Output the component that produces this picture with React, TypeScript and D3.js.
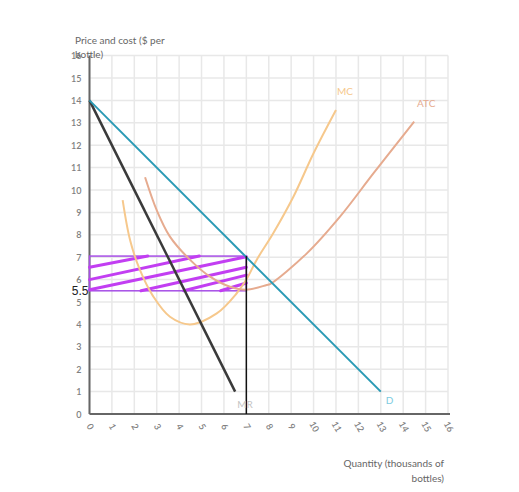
import React from "react";
import * as d3 from "d3";

const xTicks = d3.range(0, 17);
const yTicks = d3.range(0, 17);

const demand: [number, number][] = [[0, 14], [13, 1]];
const marginalRevenue: [number, number][] = [[0, 14], [6.5, 1]];

const mcCurve: [number, number][] = [
  [1.48, 9.55], [1.81, 7.77], [2.25, 6.43], [2.85, 5.24], [3.59, 4.34],
  [4.49, 4.0], [5.68, 4.49], [6.57, 5.39], [7.0, 6.0], [7.46, 6.88],
  [8.2, 8.07], [9.1, 9.7], [10.0, 11.64], [11.0, 13.57],
];

const atcCurve: [number, number][] = [
  [2.48, 10.57], [3.0, 9.1], [3.59, 7.92], [4.49, 6.88], [5.38, 6.13],
  [6.27, 5.68], [7.0, 5.55], [7.91, 5.76], [8.06, 5.8], [9.7, 7.17],
  [11.18, 8.81], [12.67, 10.74], [14.49, 13.05],
];

const profitQ = 7;
const profitPrice = 7.05;
const profitCost = 5.5;

const hatchLines: [number, number, number, number][] = [
  [0, 6.55, 2.6, 7.05],
  [0, 6.0, 4.9, 7.05],
  [0, 5.55, 7, 7.02],
  [2.3, 5.5, 7, 6.55],
  [4.2, 5.5, 7, 6.2],
  [5.85, 5.5, 7, 5.85],
];

const W = 519;
const H = 492;
const x = d3.scaleLinear().domain([0, 16]).range([89.5, 448]);
const y = d3.scaleLinear().domain([0, 16]).range([414, 55.6]);

const font = "Lato, 'Open Sans', sans-serif";

export default function App() {
  const line = d3.line<[number, number]>().x(d => x(d[0])).y(d => y(d[1]));
  const smooth = d3
    .line<[number, number]>()
    .x(d => x(d[0]))
    .y(d => y(d[1]))
    .curve(d3.curveCatmullRom.alpha(0.5));

  return (
    <svg width={W} height={H} style={{ position: "absolute", left: 0, top: 0, background: "#fff" }}>
      {/* grid */}
      <g stroke="#e8e8e8" strokeWidth={1.5}>
        {xTicks.map(t => (
          <line key={"gx" + t} x1={x(t)} x2={x(t)} y1={y(0)} y2={y(16)} />
        ))}
        {yTicks.map(t => (
          <line key={"gy" + t} x1={x(0)} x2={x(16)} y1={y(t)} y2={y(t)} />
        ))}
      </g>

      {/* axes */}
      <line x1={x(0)} x2={x(0)} y1={y(0)} y2={y(16)} stroke="#666" strokeWidth={2} />
      <line x1={x(0)} x2={x(16) + 2} y1={y(0)} y2={y(0)} stroke="#666" strokeWidth={2} />

      {/* y tick labels */}
      {yTicks.map(t => (
        <text key={"ty" + t} x={x(0) - 8} y={y(t) + 3.5} fontSize={9} fontWeight={600} fill="#808080" textAnchor="end" fontFamily={font}>
          {t}
        </text>
      ))}
      {/* x tick labels */}
      {xTicks.map(t => (
        <text
          key={"tx" + t}
          x={0}
          y={0}
          fontSize={9}
          fontWeight={600}
          fill="#808080"
          textAnchor="middle"
          dominantBaseline="middle"
          fontFamily={font}
          transform={`translate(${x(t)},${y(0) + 13}) rotate(60)`}
        >
          {t}
        </text>
      ))}

      {/* axis titles */}
      <text x={75} y={44} fontSize={10} fill="#666" fontFamily={font}>Price and cost ($ per</text>
      <text x={75} y={58} fontSize={10} fill="#666" fontFamily={font}>bottle)</text>
      <text x={444} y={467} fontSize={10} fill="#666" textAnchor="end" fontFamily={font}>Quantity (thousands of</text>
      <text x={444} y={482} fontSize={10} fill="#666" textAnchor="end" fontFamily={font}>bottles)</text>

      {/* profit rectangle */}
      <rect
        x={x(0)}
        y={y(profitPrice)}
        width={x(profitQ) - x(0)}
        height={y(profitCost) - y(profitPrice)}
        fill="none"
        stroke="#a64fe6"
        strokeWidth={1.5}
      />
      <g stroke="#c23ef2" strokeWidth={3} strokeLinecap="round">
        {hatchLines.map((h, i) => (
          <line key={"h" + i} x1={x(h[0])} y1={y(h[1])} x2={x(h[2])} y2={y(h[3])} />
        ))}
      </g>

      {/* curves */}
      <path d={smooth(mcCurve) || ""} fill="none" stroke="#f6c88c" strokeWidth={2} />
      <path d={smooth(atcCurve) || ""} fill="none" stroke="#e6ab8f" strokeWidth={2} />
      <path d={line(marginalRevenue) || ""} fill="none" stroke="#3a3a3a" strokeWidth={2.5} />
      <path d={line(demand) || ""} fill="none" stroke="#2a9ab5" strokeWidth={2} />

      {/* vertical Q line */}
      <line x1={x(profitQ)} x2={x(profitQ)} y1={y(profitPrice)} y2={y(0)} stroke="#111" strokeWidth={1.5} />

      {/* labels */}
      <text x={x(6.5) + 2} y={y(0) - 6} fontSize={10} fill="#c4c4c4" fontFamily={font}>MR</text>
      <text x={x(13) + 5} y={y(0) - 10} fontSize={10} fill="#7ccbe0" fontFamily={font}>D</text>
      <text x={337} y={95} fontSize={10} fill="#f6c88c" fontFamily={font}>MC</text>
      <text x={417} y={107} fontSize={10} fill="#e6ab8f" fontFamily={font}>ATC</text>

      <text x={x(0) - 1} y={y(profitCost) + 4.5} fontSize={12} fill="#222" textAnchor="end" fontFamily="Arial, 'Liberation Sans', sans-serif">5.5</text>
    </svg>
  );
}
